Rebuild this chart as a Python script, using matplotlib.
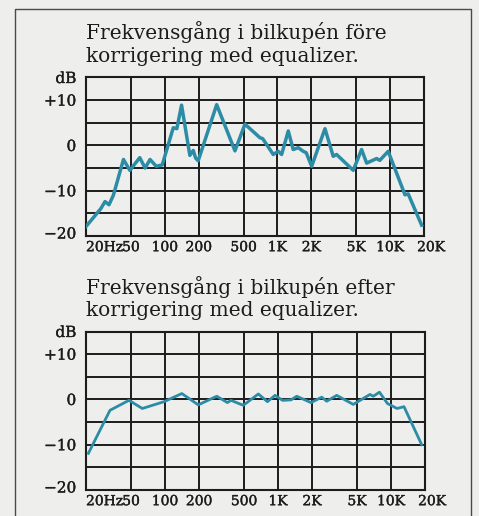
"""
Frekvensgång i bilkupén före och efter korrigering med equalizer.
Output: out.png
"""
import matplotlib.pyplot as plt
import matplotlib.patheffects as pe
from matplotlib.lines import Line2D
from matplotlib.transforms import ScaledTranslation

FIG_PATH = "out.png"

# Frequency response measured in the car cabin, before equalizer
freq_before = [20, 27, 29.5, 32, 35, 43, 49, 60, 67, 74, 84, 95, 119, 128, 141,
               167, 179, 188, 198, 289, 420, 515, 700, 740, 918, 1017, 1090,
               1248, 1380, 1530, 1695, 1800, 2014, 2643, 3127, 3350, 4709,
               5585, 6195, 7590, 8100, 9620, 13550, 14480, 19050]
db_before = [-17.9, -14.0, -12.4, -13.1, -11.0, -3.1, -5.5, -2.7, -5.0, -3.1,
             -4.6, -4.3, 3.9, 3.7, 8.9, -2.2, -1.1, -2.8, -3.4, 9.0, -1.2, 4.7,
             1.7, 1.5, -2.0, -1.3, -2.0, 3.2, -0.9, -0.5, -1.3, -1.6, -4.6,
             3.7, -2.4, -2.0, -5.5, -0.9, -3.9, -2.9, -3.3, -1.3, -10.9, -10.7,
             -17.6]

# Same cabin after equalizer correction
freq_after = [21, 32.6, 48, 63, 98, 141, 197, 287, 357, 384, 493, 670, 807,
              942, 1097, 1304, 1465, 1960, 2438, 2700, 3310, 4636, 6518, 6970,
              7909, 9310, 11300, 13040, 18700]
db_after = [-11.9, -2.4, -0.2, -2.0, -0.5, 1.3, -1.2, 0.7, -0.7, -0.2, -1.3,
            1.2, -0.5, 0.9, -0.2, -0.1, 0.7, -0.7, 0.5, -0.4, 0.9, -1.1, 1.1,
            0.7, 1.6, -0.9, -2.0, -1.6, -10.0]

x_ticks = [20, 50, 100, 200, 500, 1000, 2000, 5000, 10000, 20000]
x_labels = ["20Hz", "50", "100", "200", "500", "1K", "2K", "5K", "10K", "20K"]
y_ticks = [-20, -10, 0, 10, 15]
y_labels = ["\u221220", "\u221210", "0", "+10", "dB"]

titles = [("Frekvensgång i bilkupén före", "korrigering med equalizer."),
          ("Frekvensgång i bilkupén efter", "korrigering med equalizer.")]

BG = "#eeeeec"
INK = "#1c1c1c"
CURVE = "#2c8ca6"
SERIF = ["DejaVu Serif"]
# tick labels are set a little heavier than the titles
HEAVY = [pe.withStroke(linewidth=0.25, foreground=INK)]


def px(n):
    return n / 516


def setup_axes(fig, rect, title):
    ax = fig.add_axes(rect)
    ax.set_facecolor(BG)
    ax.set_xscale("log")
    ax.set_xlim(20, 20000)
    ax.set_ylim(-20, 15)
    ax.minorticks_off()
    ax.set_xticks(x_ticks)
    ax.set_xticklabels(x_labels, family=SERIF, fontsize=10, color=INK)
    ax.set_yticks(y_ticks)
    ax.set_yticklabels(y_labels, family=SERIF, fontsize=11, color=INK)
    ax.tick_params(length=0, pad=3, axis="x")
    ax.tick_params(length=0, pad=7, axis="y")
    # first x label starts at the frame, last one sits slightly past it
    xl = ax.get_xticklabels()
    xl[0].set_ha("left")
    xl[-1].set_transform(xl[-1].get_transform()
                         + ScaledTranslation(7 / 100, 0, fig.dpi_scale_trans))
    yl = ax.get_yticklabels()
    yl[0].set_transform(yl[0].get_transform()
                        + ScaledTranslation(0, 3 / 100, fig.dpi_scale_trans))
    for t in xl + yl:
        t.set_path_effects(HEAVY)
    for v in [-15, -10, -5, 0, 5, 10]:
        ax.axhline(v, color=INK, lw=1.4, zorder=1)
    for f in x_ticks[1:-1]:
        ax.axvline(f, color=INK, lw=1.4, zorder=1)
    for s in ax.spines.values():
        s.set_color(INK)
        s.set_linewidth(1.5)
    top = rect[1] + rect[3]
    for line, off in zip(title, (38, 16)):
        fig.text(rect[0], top + px(off), line, family=SERIF, fontsize=14.5,
                 color=INK, ha="left", va="baseline")
    return ax


def main():
    fig = plt.figure(figsize=(4.79, 5.16), dpi=100, facecolor=BG)

    # outer frame, open at the bottom
    fx0, fx1, fy = 14.5 / 479, 470.5 / 479, 1 - px(8.5)
    fig.add_artist(Line2D([fx0, fx0, fx1, fx1], [0, fy, fy, 0],
                          color="#4a4a4a", lw=1.0))

    ax1 = setup_axes(fig, [86 / 479, 1 - px(236), 338 / 479, px(158.5)],
                     titles[0])
    ax1.plot(freq_before, db_before, color=CURVE, lw=2.5, zorder=3,
             solid_joinstyle="round")

    ax2 = setup_axes(fig, [86 / 479, 1 - px(490), 339 / 479, px(158.5)],
                     titles[1])
    ax2.plot(freq_after, db_after, color=CURVE, lw=2.0, zorder=3,
             solid_joinstyle="round")

    fig.savefig(FIG_PATH, dpi=100, facecolor=BG)
    plt.close(fig)


if __name__ == "__main__":
    main()
